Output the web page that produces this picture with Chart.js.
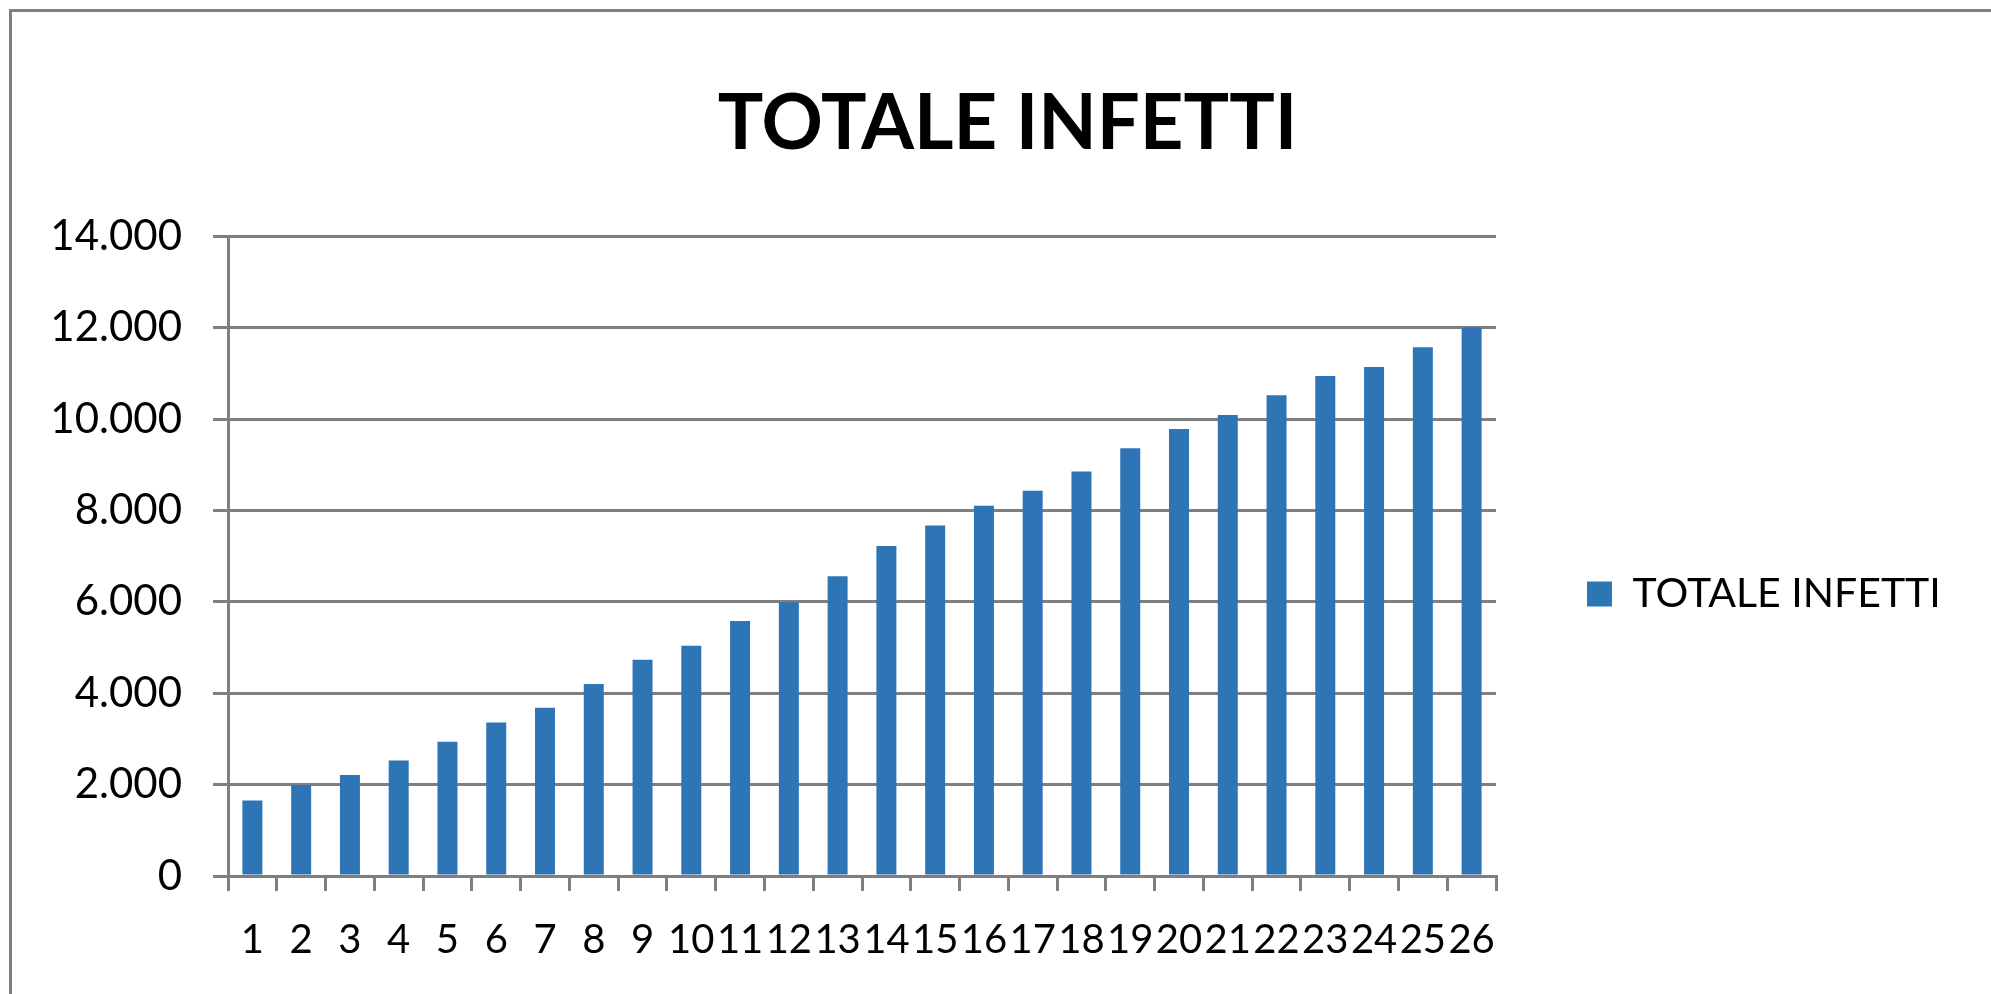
<!DOCTYPE html>
<html>
<head>
<meta charset="utf-8">
<script src="https://cdn.jsdelivr.net/npm/chart.js@4/dist/chart.umd.min.js"></script>
<style>
  html, body { margin: 0; padding: 0; background: #ffffff; }
  #wrap { position: relative; width: 1991px; height: 994px; background: #ffffff; }
  #frame { position: absolute; left: 9px; top: 9px; right: -5px; bottom: -5px;
           border-left: 3px solid #7f7f7f; border-top: 3px solid #7f7f7f; pointer-events: none; }
</style>
</head>
<body>
<div id="wrap">
  <canvas id="c"></canvas>
  <div id="frame"></div>
</div>
<script>
// ---- data ----
const chartTitle = 'TOTALE INFETTI';
const seriesName = 'TOTALE INFETTI';
const categories = ['1','2','3','4','5','6','7','8','9','10','11','12','13','14','15','16','17','18','19','20','21','22','23','24','25','26'];
const totaleInfetti = [1650, 1990, 2210, 2530, 2940, 3360, 3680, 4200, 4730, 5040, 5580, 5990, 6560, 7220, 7670, 8100, 8430, 8850, 9360, 9780, 10090, 10520, 10940, 11140, 11570, 12000];
const yMin = 0, yMax = 14000, yStep = 2000;

function fmtIt(v) {
  return String(v).replace(/\B(?=(\d{3})+(?!\d))/g, '.');
}

const legendFix = {
  id: 'legendFix',
  beforeLayout(chart) {
    const lg = chart.legend;
    if (lg && !lg._fixed) {
      const orig = lg.fit.bind(lg);
      lg.fit = function () { orig(); this.width = 495; };
      lg._fixed = true;
    }
  },
  afterLayout(chart) {
    const lg = chart.legend;
    if (lg) { lg.top += 97; lg.bottom += 97; }
  }
};

new Chart(document.getElementById('c'), {
  type: 'bar',
  data: {
    labels: categories,
    datasets: [{
      label: seriesName,
      data: totaleInfetti,
      backgroundColor: '#2E75B6',
      borderWidth: 0,
      categoryPercentage: 1.0,
      barPercentage: 0.41
    }]
  },
  options: {
    responsive: true,
    maintainAspectRatio: false,
    animation: false,
    layout: { padding: { left: 24, right: 0, top: 0, bottom: 0 } },
    plugins: {
      title: {
        display: true,
        text: chartTitle,
        color: '#000000',
        font: { family: 'Lato', size: 76, weight: 'bold' },
        padding: { top: 79, bottom: 66 }
      },
      legend: {
        display: true,
        position: 'right',
        labels: {
          color: '#000000',
          font: { family: 'Lato', size: 41 },
          boxWidth: 25,
          boxHeight: 25,
          padding: 91
        }
      },
      tooltip: { enabled: false }
    },
    scales: {
      x: {
        offset: true,
        grid: { display: true, drawOnChartArea: false, drawTicks: true, tickLength: 15, color: '#7f7f7f', lineWidth: 3, offset: true },
        border: { display: true, color: '#7f7f7f', width: 3 },
        ticks: { color: '#000000', font: { family: 'Lato', size: 40 }, padding: 25, autoSkip: false, maxRotation: 0, minRotation: 0 },
        afterFit(scale) { scale.height = 118; }
      },
      y: {
        min: yMin, max: yMax,
        grid: { color: '#7f7f7f', lineWidth: 3, tickLength: 15, drawTicks: true },
        border: { display: true, color: '#7f7f7f', width: 3 },
        ticks: { stepSize: yStep, color: '#000000', font: { family: 'Lato', size: 42 }, padding: 31, callback: (v) => fmtIt(v) },
        afterFit(scale) { scale.width = 204; }
      }
    }
  },
  plugins: [legendFix]
});
</script>
</body>
</html>
